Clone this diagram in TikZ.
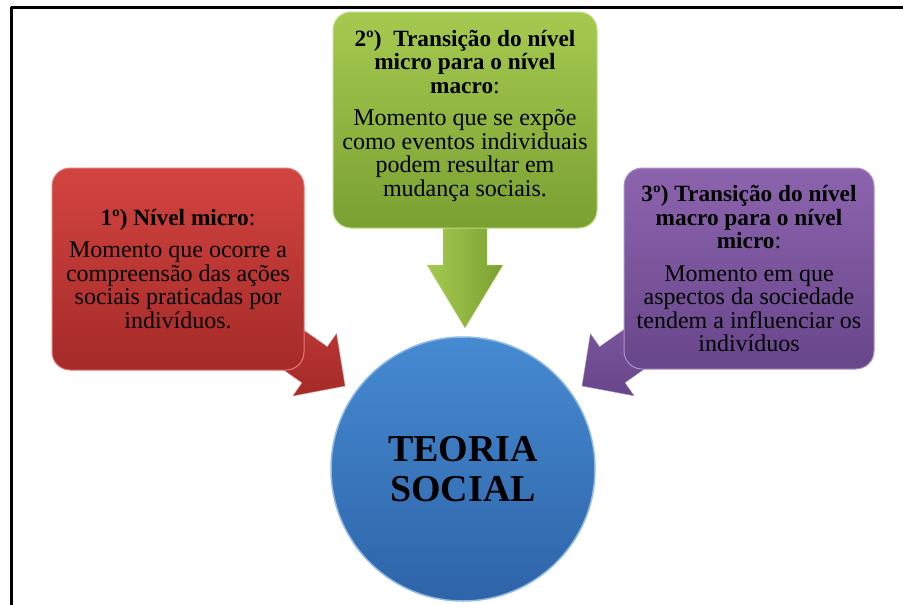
\documentclass[tikz,border=0pt]{standalone}
\usepackage{fontspec}
\setmainfont{Liberation Serif}
\usetikzlibrary{calc,backgrounds}

\definecolor{vermelhoA}{RGB}{210,68,64}
\definecolor{vermelhoB}{RGB}{165,42,40}
\definecolor{verdeA}{RGB}{166,202,80}
\definecolor{verdeB}{RGB}{122,160,50}
\definecolor{roxoA}{RGB}{140,100,174}
\definecolor{roxoB}{RGB}{104,70,138}
\definecolor{azulA}{RGB}{70,138,210}
\definecolor{azulB}{RGB}{46,100,168}

\tikzset{
  caixa/.style 2 args={rounded corners=18pt, minimum width=#1, minimum height=#2, inner sep=0pt,
    align=center, line width=1pt, font=\fontsize{24}{23.5}\selectfont},
}
\newcommand{\titulo}[1]{{\fontsize{23.3}{24}\selectfont\textbf{#1}}}

% seta larga: #1 estilo, #2 origem, #3 ponta, #4 comprimento da cabeca
\newcommand{\blocoseta}[4]{%
  \coordinate (base) at ($(#3)!#4pt!(#2)$);
  \path[#1] ($(#2)!22pt!90:(#3)$) -- ($(base)!22pt!90:(#3)$) -- ($(base)!38pt!90:(#3)$) -- (#3)
    -- ($(base)!38pt!-90:(#3)$) -- ($(base)!22pt!-90:(#3)$) -- ($(#2)!22pt!-90:(#3)$) -- cycle;}

\begin{document}
\begin{tikzpicture}[x=1pt, y=-1pt, line join=round]
  \useasboundingbox (0,0) rectangle (903,605);
  \draw[line width=3pt] (11,605) -- (11,7.5) -- (903,7.5);

  \node[caixa={252pt}{202pt}, top color=vermelhoA, bottom color=vermelhoB, draw=vermelhoA!70!white] (micro) at (178,269)
    {\titulo{1º) Nível micro}:\\[9pt] Momento que ocorre a\\ compreensão das ações\\ sociais praticadas por\\ indivíduos.};
  \node[caixa={264pt}{216pt}, top color=verdeA, bottom color=verdeB, draw=verdeA!70!white] (macro) at (465,120)
    {\titulo{2º)\ \ Transição do nível}\\ \titulo{micro para o nível}\\ \titulo{macro}:\\[9pt] Momento que se expõe\\ como eventos individuais\\ podem resultar em\\ mudança sociais.\\[-10pt]};
  \node[caixa={250pt}{201pt}, top color=roxoA, bottom color=roxoB, draw=roxoA!70!white] (volta) at (749,268.5)
    {\titulo{3º) Transição do nível}\\ \titulo{macro para o nível}\\ \titulo{micro}:\\[9pt] Momento em que\\ aspectos da sociedade\\ tendem a influenciar os\\ indivíduos};

  \node[circle, minimum size=264pt, inner sep=0pt, top color=azulA, bottom color=azulB, draw=azulA!60!white,
    line width=1.5pt, align=center, font=\bfseries\fontsize{38}{40}\selectfont] (teoria) at (463,469) {TEORIA\\ SOCIAL};

  \coordinate (p1) at (345,386);
  \coordinate (p2) at (465,328);
  \coordinate (p3) at (582,386);
  \begin{scope}[on background layer]
    \blocoseta{top color=vermelhoA, bottom color=vermelhoB, draw=vermelhoA!70!white}{micro.center}{p1}{37}
    \blocoseta{left color=verdeA, right color=verdeB, draw=verdeA!70!white}{macro.center}{p2}{63}
    \blocoseta{top color=roxoA, bottom color=roxoB, draw=roxoA!70!white}{volta.center}{p3}{37}
  \end{scope}
\end{tikzpicture}
\end{document}
